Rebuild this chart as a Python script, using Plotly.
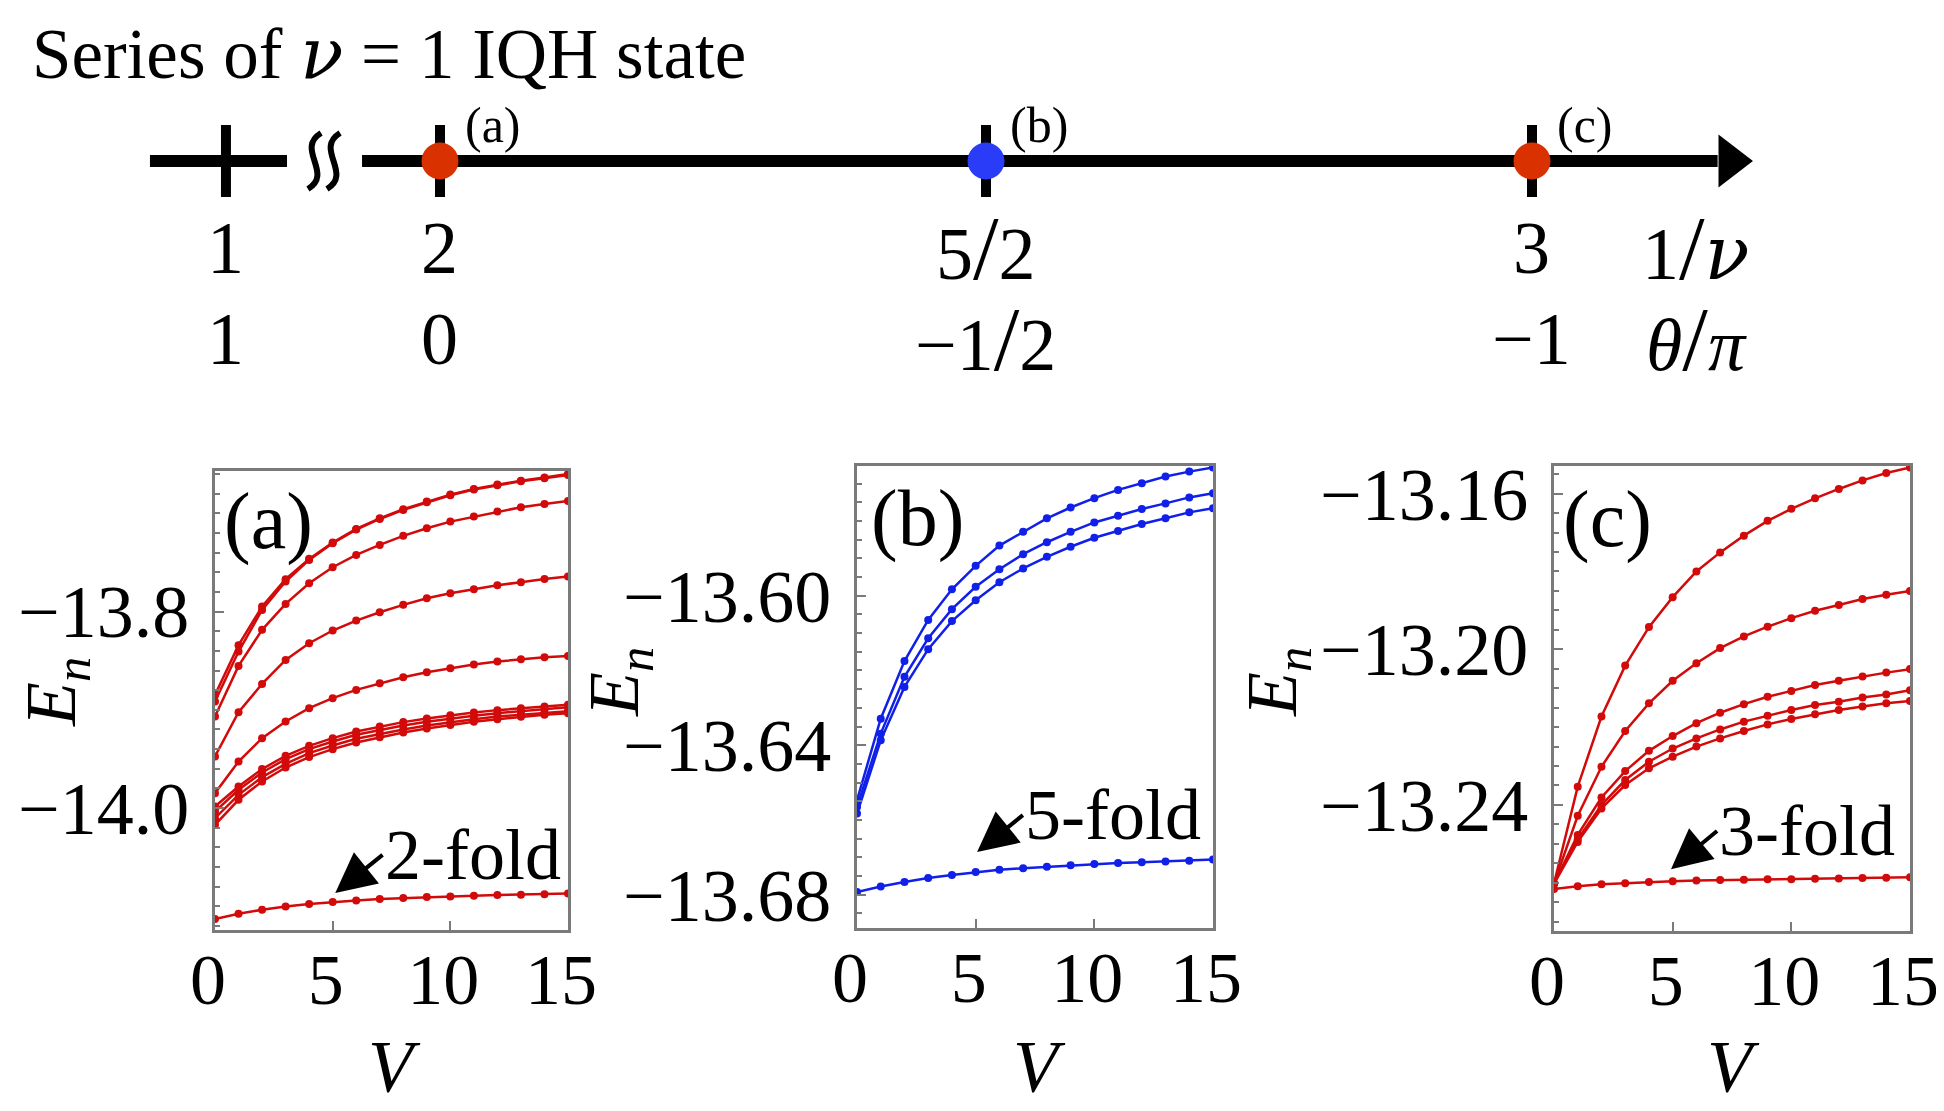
import plotly.graph_objects as go

SERIF = "Liberation Serif"
GRAY = "#7a7a7a"
RED = "#d20a0a"
BLUE = "#1020e8"

# the page body has an 8px margin, so the figure is drawn 8px in from the corner
W, H, PAD = 1936, 1103, 8


def fx(px):
    return (px - PAD) / W


def fy(py):
    return 1 - (py - PAD) / H


# interaction strength V, same grid in all three panels
V = list(range(16))

# panel (a): 1/nu = 2, theta/pi = 0 (lowest line is the 2-fold ground state)
levels_a = [
    [-13.8848, -13.8342, -13.7949, -13.7671, -13.7464, -13.7298, -13.7159, -13.7051,
     -13.6959, -13.6881, -13.6810, -13.6752, -13.6708, -13.6668, -13.6637, -13.6600],
    [-13.8915, -13.8407, -13.7983, -13.7695, -13.7475, -13.7305, -13.7166, -13.7058,
     -13.6966, -13.6888, -13.6817, -13.6759, -13.6715, -13.6675, -13.6644, -13.6610],
    [-13.9068, -13.8553, -13.8186, -13.7922, -13.7712, -13.7549, -13.7424, -13.7322,
     -13.7230, -13.7152, -13.7085, -13.7034, -13.6983, -13.6939, -13.6905, -13.6875],
    [-13.9475, -13.9024, -13.8736, -13.8492, -13.8322, -13.8193, -13.8092, -13.8007,
     -13.7932, -13.7864, -13.7814, -13.7773, -13.7732, -13.7702, -13.7668, -13.7644],
    [-13.9848, -13.9526, -13.9288, -13.9119, -13.8983, -13.8881, -13.8797, -13.8729,
     -13.8668, -13.8617, -13.8576, -13.8539, -13.8509, -13.8485, -13.8464, -13.8451],
    [-13.9983, -13.9780, -13.9603, -13.9468, -13.9366, -13.9288, -13.9220, -13.9170,
     -13.9125, -13.9088, -13.9054, -13.9027, -13.9003, -13.8983, -13.8966, -13.8949],
    [-14.0034, -13.9814, -13.9637, -13.9502, -13.9400, -13.9322, -13.9254, -13.9203,
     -13.9159, -13.9122, -13.9088, -13.9061, -13.9034, -13.9014, -13.8993, -13.8973],
    [-14.0102, -13.9865, -13.9685, -13.9549, -13.9441, -13.9363, -13.9295, -13.9244,
     -13.9200, -13.9159, -13.9125, -13.9095, -13.9068, -13.9048, -13.9027, -13.9014],
    [-14.0170, -13.9915, -13.9729, -13.9587, -13.9481, -13.9400, -13.9332, -13.9278,
     -13.9231, -13.9190, -13.9153, -13.9122, -13.9095, -13.9071, -13.9051, -13.9034],
    [-14.1129, -14.1075, -14.1034, -14.1000, -14.0976, -14.0956, -14.0939, -14.0925,
     -14.0915, -14.0905, -14.0898, -14.0892, -14.0885, -14.0881, -14.0875, -14.0868],
]

# panel (b): 1/nu = 5/2, theta/pi = -1/2 (5-fold ground state)
levels_b = [
    [-13.6547, -13.6329, -13.6175, -13.6065, -13.5983, -13.5920, -13.5866, -13.5829,
     -13.5793, -13.5764, -13.5739, -13.5717, -13.5699, -13.5681, -13.5668, -13.5657],
    [-13.6565, -13.6369, -13.6217, -13.6114, -13.6036, -13.5976, -13.5929, -13.5889,
     -13.5857, -13.5829, -13.5804, -13.5786, -13.5768, -13.5753, -13.5737, -13.5726],
    [-13.6583, -13.6387, -13.6244, -13.6143, -13.6068, -13.6012, -13.5964, -13.5927,
     -13.5896, -13.5869, -13.5845, -13.5827, -13.5808, -13.5793, -13.5777, -13.5766],
    [-13.6793, -13.6778, -13.6766, -13.6755, -13.6747, -13.6739, -13.6733, -13.6729,
     -13.6725, -13.6721, -13.6718, -13.6715, -13.6713, -13.6711, -13.6709, -13.6706],
]

# panel (c): 1/nu = 3, theta/pi = -1 (3-fold ground state)
levels_c = [
    [-13.2602, -13.2353, -13.2173, -13.2042, -13.1943, -13.1866, -13.1800, -13.1751,
     -13.1708, -13.1670, -13.1639, -13.1612, -13.1588, -13.1566, -13.1547, -13.1533],
    [-13.2602, -13.2428, -13.2302, -13.2210, -13.2139, -13.2081, -13.2036, -13.1997,
     -13.1967, -13.1942, -13.1920, -13.1901, -13.1886, -13.1871, -13.1860, -13.1850],
    [-13.2602, -13.2477, -13.2381, -13.2313, -13.2261, -13.2223, -13.2190, -13.2163,
     -13.2141, -13.2122, -13.2107, -13.2092, -13.2081, -13.2070, -13.2060, -13.2051],
    [-13.2602, -13.2488, -13.2400, -13.2336, -13.2289, -13.2255, -13.2229, -13.2206,
     -13.2186, -13.2171, -13.2156, -13.2143, -13.2135, -13.2124, -13.2116, -13.2105],
    [-13.2602, -13.2495, -13.2409, -13.2349, -13.2306, -13.2276, -13.2250, -13.2229,
     -13.2210, -13.2193, -13.2179, -13.2167, -13.2156, -13.2147, -13.2139, -13.2133],
    [-13.2616, -13.2609, -13.2604, -13.2601, -13.2598, -13.2596, -13.2594, -13.2593,
     -13.2592, -13.2591, -13.2591, -13.2590, -13.2589, -13.2588, -13.2587, -13.2586],
]

# number line at the top: 1/nu ticks (the "1" sits left of the axis break)
line_ticks = [1.804, 2.0, 2.5, 3.0]
SL = "<span style='font-size:92px'>/</span>"
NU = "<span style='font-family:DejaVu Serif'><i>ν</i></span>"
inv_nu_labels = ["1", "2", "5" + SL + "2", "3"]
theta_labels = ["1", "0", "\u22121" + SL + "2", "\u22121"]
state_x = [2.0, 2.5, 3.0]
state_names = ["(a)", "(b)", "(c)"]
state_colors = ["#d93200", "#2a3cf8", "#d93200"]
fold_labels = ["2-fold", "5-fold", "3-fold"]

fig = go.Figure()

# ---- top number line ----
line_kw = dict(xaxis="x4", yaxis="y4", mode="lines", showlegend=False,
               hoverinfo="skip", line=dict(color="black", width=12))
fig.add_trace(go.Scatter(x=[1.7344, 1.8599], y=[0, 0], **line_kw))
fig.add_trace(go.Scatter(x=[1.9286, 3.17], y=[0, 0], **line_kw))
fig.add_trace(go.Scatter(x=[3.1813], y=[0], xaxis="x4", yaxis="y4", mode="markers",
                         showlegend=False, hoverinfo="skip",
                         marker=dict(symbol="triangle-right", size=46, color="black")))
for t in line_ticks:
    fig.add_trace(go.Scatter(x=[t, t], y=[-36, 36], xaxis="x4", yaxis="y4", mode="lines",
                             showlegend=False, hoverinfo="skip",
                             line=dict(color="black", width=10)))
fig.add_trace(go.Scatter(x=state_x, y=[0, 0, 0], xaxis="x4", yaxis="y4", mode="markers",
                         showlegend=False, hoverinfo="skip",
                         marker=dict(size=37, color=state_colors, line=dict(width=0))))

# axis break squiggles
for xc in [1.8851, 1.9025]:
    a = 0.006
    fig.add_shape(type="path", xref="x4", yref="y4",
                  path=f"M {xc + a},28 C {xc - 3 * a},12 {xc + 3 * a},-12 {xc - a},-28",
                  line=dict(color="black", width=6))

for t, l1, l2 in zip(line_ticks, inv_nu_labels, theta_labels):
    fig.add_annotation(x=t, y=-87, xref="x4", yref="y4", text=l1, showarrow=False,
                       font=dict(size=74))
    fig.add_annotation(x=t, y=-178, xref="x4", yref="y4", text=l2, showarrow=False,
                       font=dict(size=74))
fig.add_annotation(x=3.1502, y=-87, xref="x4", yref="y4", text="1" + SL + NU,
                   showarrow=False, font=dict(size=74))
fig.add_annotation(x=3.1502, y=-178, xref="x4", yref="y4",
                   text="<i>θ</i>" + SL + "<i>π</i>", showarrow=False, font=dict(size=74))
for sx, name in zip(state_x, state_names):
    fig.add_annotation(x=sx, y=36, xref="x4", yref="y4", text=name, showarrow=False,
                       xshift=53, font=dict(size=50))

fig.add_annotation(x=fx(30), y=fy(53), xref="paper", yref="paper", xanchor="left",
                   yanchor="middle", text="Series of " + NU + " = 1 IQH state",
                   showarrow=False, font=dict(size=71))

# ---- three spectra panels ----
panels = [
    (levels_a, RED, "x", "y"),
    (levels_b, BLUE, "x2", "y2"),
    (levels_c, RED, "x3", "y3"),
]
for levels, color, xa, ya in panels:
    for E in levels:
        fig.add_trace(go.Scatter(x=V, y=E, xaxis=xa, yaxis=ya, mode="lines+markers",
                                 showlegend=False, line=dict(color=color, width=2.5),
                                 marker=dict(size=8, color=color)))

arrows = [
    ("x", "y", 5.11, -14.0863, 7.12, -14.0476),
    ("x2", "y2", 5.06, -13.6686, 6.99, -13.6587),
    ("x3", "y3", 4.93, -13.2565, 6.87, -13.2467),
]
for (xa, ya, tx, ty, ax, ay), lab in zip(arrows, fold_labels):
    fig.add_annotation(x=tx, y=ty, xref=xa, yref=ya, ax=ax, ay=ay, axref=xa, ayref=ya,
                       text=lab, showarrow=True, arrowhead=2, arrowsize=2.0,
                       arrowwidth=4, arrowcolor="black", xanchor="left",
                       yanchor="middle", font=dict(size=72))

for xa, ya, name, xd, yd in [("x", "y", "(a)", 0.02, 0.89), ("x2", "y2", "(b)", 0.035, 0.887),
                             ("x3", "y3", "(c)", 0.02, 0.886)]:
    fig.add_annotation(x=xd, y=yd, xref=f"{xa} domain", yref=f"{ya} domain",
                       text=name, showarrow=False, xanchor="left", yanchor="middle",
                       font=dict(size=80))

# rotated E_n labels and V labels, centred where the reference has them
for px, py in [(56, 692), (619, 682), (1277, 682)]:
    fig.add_annotation(x=fx(px), y=fy(py), xref="paper", yref="paper",
                       xanchor="center", yanchor="middle", text="<i>E<sub>n</sub></i>",
                       textangle=-90, showarrow=False, font=dict(size=72))
for px in [394, 1039, 1733]:
    fig.add_annotation(x=fx(px), y=fy(1067), xref="paper", yref="paper",
                       xanchor="center", yanchor="middle", text="<i>V</i>",
                       showarrow=False, font=dict(size=74))


def frame(**kw):
    d = dict(showline=True, linecolor=GRAY, linewidth=3, mirror=True, ticks="inside",
             ticklen=9, tickwidth=2, tickcolor=GRAY, showgrid=False, zeroline=False,
             automargin=False, ticklabeloverflow="allow",
             tickfont=dict(family=SERIF, size=74, color="black"))
    d.update(kw)
    return d


def xframe(x0, x1, anchor):
    return frame(domain=[fx(x0), fx(x1)], anchor=anchor, range=[0, 15],
                 tickvals=[0, 5, 10, 15], ticklabelstandoff=-15, ticklabelshift=-7,
                 tickfont=dict(family=SERIF, size=72, color="black"))


def yframe(y0, y1, anchor, rng, dtick, minor, fmt):
    return frame(domain=[fy(y1), fy(y0)], anchor=anchor, range=rng, dtick=dtick,
                 tick0=-13.0, tickformat=fmt, ticklabelstandoff=8,
                 minor=dict(ticks="inside", ticklen=5, tickwidth=1.5, tickcolor=GRAY,
                            dtick=minor, showgrid=False))


fig.update_layout(
    width=W, height=H,
    margin=dict(l=0, r=0, t=0, b=0, autoexpand=False),
    paper_bgcolor="white", plot_bgcolor="white",
    font=dict(family=SERIF, color="black"),
    xaxis=xframe(215, 568, "y"),
    yaxis=yframe(471, 930, "x", [-14.124, -13.657], 0.2, 0.02, ".1f"),
    xaxis2=xframe(857, 1213, "y2"),
    yaxis2=yframe(466, 928, "x2", [-13.6889, -13.5653], 0.04, 0.005, ".2f"),
    xaxis3=xframe(1554, 1910, "y3"),
    yaxis3=yframe(466, 931, "x3", [-13.2724, -13.1529], 0.04, 0.005, ".2f"),
    xaxis4=dict(domain=[0, 1], anchor="y4", range=[1.6044, 3.3773], visible=False,
                automargin=False),
    yaxis4=dict(domain=[fy(390), 1], anchor="x4", range=[-229, 153], visible=False,
                automargin=False),
)

fig.write_html("out.html")
